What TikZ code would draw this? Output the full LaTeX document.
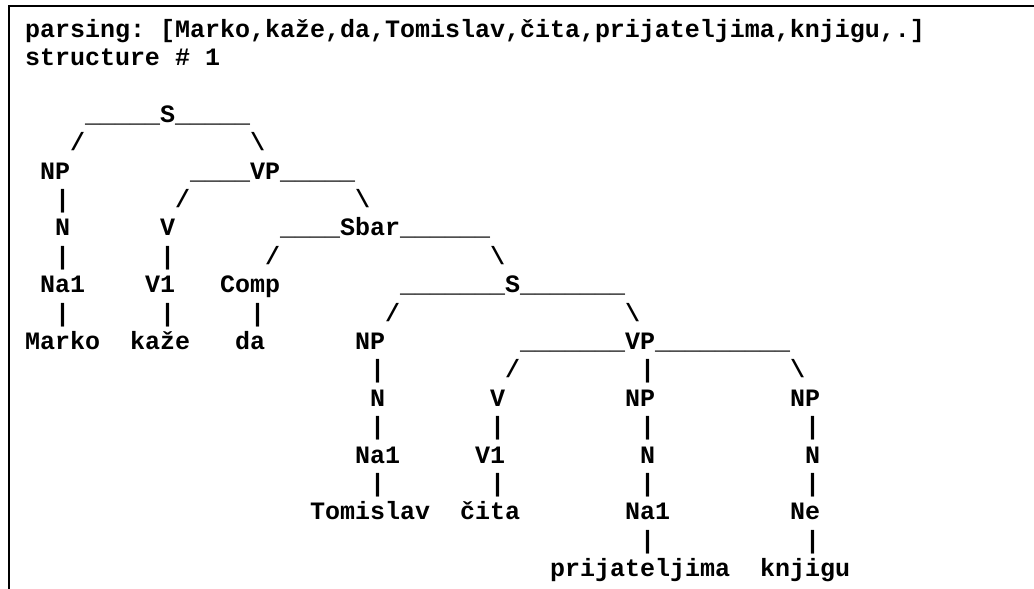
\documentclass[tikz,border=0pt]{standalone}
\usepackage{fontspec}
\newfontfamily\codefont{Liberation Mono}
\newcommand\tk[4]{\node[tok] (#1) at ({25+15*#2},{37+28.4*(#3-1)}) {#4};}
\begin{document}
\begin{tikzpicture}[x=1pt,y=-1pt,
  tok/.style={anchor=base west, inner sep=0pt, outer sep=0pt, text=black,
    font=\codefont\bfseries\fontsize{25}{28}\selectfont},
  frame/.style={line width=2pt, draw=black}]
\useasboundingbox (0,0) rectangle (1034,589);
\fill[white] (0,0) rectangle (1034,589);
\draw[frame] (8,5.5) -- (1034,5.5);
\draw[frame] (9,5) -- (9,589);
% row 1-2
\tk{r1a}{0}{1}{parsing:}
\tk{r1b}{9}{1}{[Marko,kaže,da,Tomislav,čita,prijateljima,knjigu,.]}
\tk{r2a}{0}{2}{structure}
\tk{r2b}{10}{2}{\#}
\tk{r2c}{12}{2}{1}
% row 4-5
\tk{S1}{4}{4}{\_\_\_\_\_S\_\_\_\_\_}
\tk{r5a}{3}{5}{/}
\tk{r5b}{15}{5}{\textbackslash}
% row 6-7
\tk{NP1}{1}{6}{NP}
\tk{VP1}{11}{6}{\_\_\_\_VP\_\_\_\_\_}
\tk{r7a}{2}{7}{|}
\tk{r7b}{10}{7}{/}
\tk{r7c}{22}{7}{\textbackslash}
% row 8-9
\tk{N1}{2}{8}{N}
\tk{V1a}{9}{8}{V}
\tk{Sbar}{17}{8}{\_\_\_\_Sbar\_\_\_\_\_\_}
\tk{r9a}{2}{9}{|}
\tk{r9b}{9}{9}{|}
\tk{r9c}{16}{9}{/}
\tk{r9d}{31}{9}{\textbackslash}
% row 10-11
\tk{Na1a}{1}{10}{Na1}
\tk{V1b}{8}{10}{V1}
\tk{Comp}{13}{10}{Comp}
\tk{S2}{25}{10}{\_\_\_\_\_\_\_S\_\_\_\_\_\_\_}
\tk{r11a}{2}{11}{|}
\tk{r11b}{9}{11}{|}
\tk{r11c}{15}{11}{|}
\tk{r11d}{24}{11}{/}
\tk{r11e}{40}{11}{\textbackslash}
% row 12-13
\tk{Marko}{0}{12}{Marko}
\tk{kaze}{7}{12}{kaže}
\tk{da}{14}{12}{da}
\tk{NP2}{22}{12}{NP}
\tk{VP2}{33}{12}{\_\_\_\_\_\_\_VP\_\_\_\_\_\_\_\_\_}
\tk{r13a}{23}{13}{|}
\tk{r13b}{32}{13}{/}
\tk{r13c}{41}{13}{|}
\tk{r13d}{51}{13}{\textbackslash}
% row 14-15
\tk{N2}{23}{14}{N}
\tk{V2}{31}{14}{V}
\tk{NP3}{40}{14}{NP}
\tk{NP4}{51}{14}{NP}
\tk{r15a}{23}{15}{|}
\tk{r15b}{31}{15}{|}
\tk{r15c}{41}{15}{|}
\tk{r15d}{52}{15}{|}
% row 16-17
\tk{Na1b}{22}{16}{Na1}
\tk{V1c}{30}{16}{V1}
\tk{N3}{41}{16}{N}
\tk{N4}{52}{16}{N}
\tk{r17a}{23}{17}{|}
\tk{r17b}{31}{17}{|}
\tk{r17c}{41}{17}{|}
\tk{r17d}{52}{17}{|}
% row 18-20
\tk{Tomislav}{19}{18}{Tomislav}
\tk{cita}{29}{18}{čita}
\tk{Na1c}{40}{18}{Na1}
\tk{Ne}{51}{18}{Ne}
\tk{r19a}{41}{19}{|}
\tk{r19b}{52}{19}{|}
\tk{prij}{35}{20}{prijateljima}
\tk{knjigu}{49}{20}{knjigu}
\end{tikzpicture}
\end{document}
